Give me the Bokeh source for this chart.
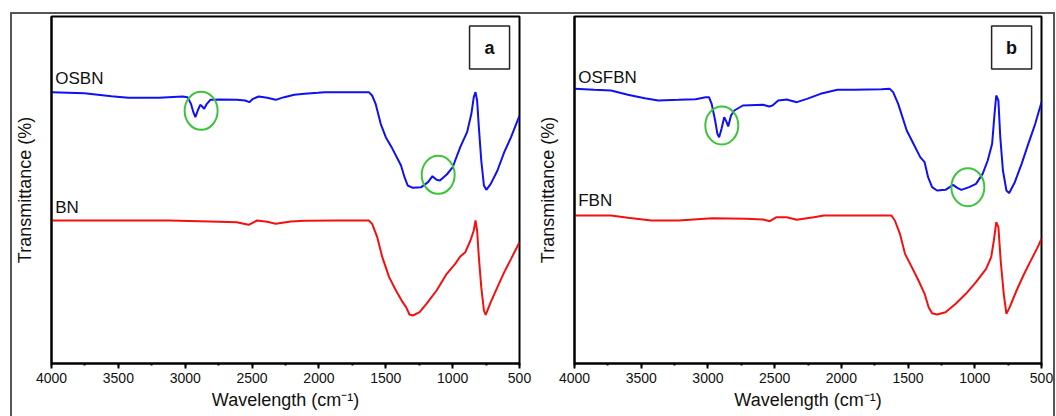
from bokeh.plotting import figure
from bokeh.models import Range1d, SingleIntervalTicker, FixedTicker, Label, InlineStyleSheet
from bokeh.layouts import row
from bokeh.embed import file_html
from bokeh.resources import INLINE

# ---------------- data (wavenumber cm^-1, transmittance a.u.) ----------------
osbn_wn = [4000, 3754, 3552, 3425, 3197, 3020, 2982, 2957, 2939, 2924, 2906, 2888, 2873, 2858, 2838,
           2812, 2741, 2615, 2551, 2521, 2493, 2450, 2387, 2323, 2260, 2184, 2108, 2007, 1956, 1779,
           1627, 1602, 1576, 1538, 1500, 1450, 1386, 1360, 1336, 1298, 1235, 1184, 1151, 1120, 1095,
           1044, 999, 981, 943, 892, 860, 842, 829, 817, 804, 786, 766, 748, 715, 665, 614, 563, 500]
osbn_t = [80.5, 80.2, 79.3, 78.8, 78.8, 79.2, 79.0, 77.0, 74.5, 73.0, 75.0, 76.7, 76.2, 75.5, 77.0,
          78.2, 78.3, 78.2, 78.0, 77.5, 78.5, 79.2, 78.8, 78.2, 79.0, 79.7, 80.0, 80.3, 80.5, 80.5,
          80.5, 79.5, 77.0, 71.0, 67.0, 63.5, 58.5, 55.0, 52.5, 51.8, 52.0, 53.5, 55.3, 54.2, 54.0,
          55.8, 58.0, 60.0, 64.0, 68.5, 74.0, 79.0, 80.5, 78.0, 70.0, 60.0, 52.5, 51.2, 53.0, 57.0,
          62.5, 67.0, 73.5]

bn_wn = [4000, 3121, 2817, 2615, 2526, 2463, 2387, 2323, 2210, 2108, 1855, 1627, 1602, 1564, 1526,
         1475, 1424, 1374, 1348, 1323, 1298, 1247, 1196, 1120, 1044, 981, 943, 905, 867, 842, 829,
         817, 804, 786, 766, 753, 715, 665, 614, 563, 500]
bn_t = [42.0, 42.0, 41.7, 41.5, 40.7, 42.0, 41.6, 41.0, 41.7, 41.9, 42.0, 42.0, 41.0, 37.0, 31.0,
        25.0, 21.0, 17.5, 16.0, 13.8, 13.5, 14.5, 17.0, 21.0, 26.0, 29.0, 31.2, 32.5, 36.0, 39.0, 42.0,
        39.0, 31.0, 22.0, 15.0, 13.7, 17.5, 22.0, 26.5, 30.5, 35.5]

osfbn_wn = [4000, 3853, 3726, 3600, 3473, 3372, 3220, 3093, 3017, 2992, 2972, 2946, 2929, 2916, 2898,
            2878, 2860, 2848, 2827, 2802, 2739, 2587, 2541, 2516, 2473, 2410, 2334, 2258, 2156, 2030,
            1903, 1700, 1637, 1612, 1574, 1510, 1472, 1409, 1376, 1350, 1320, 1283, 1219, 1163, 1131,
            1100, 1042, 991, 941, 903, 870, 852, 839, 823, 809, 789, 763, 743, 700, 649, 599, 547, 500]
osfbn_t = [81.5, 81.2, 81.0, 79.7, 78.7, 78.0, 78.2, 78.4, 79.0, 79.0, 77.0, 72.0, 68.0, 67.0, 69.5,
           73.0, 71.5, 70.2, 73.5, 75.0, 76.5, 76.7, 76.2, 76.5, 78.0, 78.3, 77.5, 78.5, 80.0, 81.2,
           81.2, 81.4, 81.5, 80.5, 77.0, 69.0, 66.0, 61.0, 59.5, 55.0, 52.0, 51.0, 51.2, 52.7, 51.8,
           51.2, 52.0, 53.0, 56.0, 60.0, 65.0, 74.0, 79.5, 78.0, 67.0, 57.0, 51.0, 50.2, 53.5, 59.0,
           65.0, 71.0, 77.5]

fbn_wn = [4000, 3726, 3600, 3423, 3220, 2967, 2713, 2587, 2536, 2486, 2410, 2334, 2207, 2131, 1827,
          1625, 1599, 1561, 1523, 1472, 1422, 1376, 1346, 1320, 1283, 1219, 1143, 1067, 991, 915,
          877, 857, 839, 823, 806, 783, 763, 738, 687, 636, 586, 535, 500]
fbn_t = [43.5, 43.5, 42.8, 42.0, 42.0, 42.7, 42.5, 42.3, 41.8, 43.0, 43.0, 42.2, 43.0, 43.5, 43.5,
         43.5, 42.0, 38.0, 32.0, 28.0, 24.0, 20.0, 16.0, 14.2, 13.8, 14.5, 17.0, 20.0, 23.5, 27.5,
         31.0, 36.0, 41.5, 40.0, 30.0, 20.0, 14.0, 16.0, 21.0, 25.5, 29.5, 33.5, 36.5]

# highlighted regions (green circles)
a_circle_wn = [2881, 1108]
a_circle_t = [74.9, 55.7]
b_circle_wn = [2896, 1052]
b_circle_t = [70.5, 52.0]

series_names_a = ["OSBN", "BN"]
series_names_b = ["OSFBN", "FBN"]
panel_tags = ["a", "b"]

FONT = "Liberation Sans"
BLUE = "#1010f5"
RED = "#f51010"
GREEN = "#3cc43c"
INK = "#111111"


def make_panel(width, left, right, top_wn, top_t, bot_wn, bot_t, c_wn, c_t, names, tag, name_y):
    p = figure(width=width, height=416, x_range=Range1d(4000, 500), y_range=Range1d(-0.9, 103.2),
               output_backend="svg", toolbar_location=None,
               min_border_left=left, min_border_right=right, min_border_top=16, min_border_bottom=53)
    p.grid.visible = False
    p.outline_line_color = "black"
    p.outline_line_width = 2
    p.background_fill_color = "white"
    p.border_fill_color = "white"

    xa = p.xaxis[0]
    xa.ticker = SingleIntervalTicker(interval=500, num_minor_ticks=2)
    xa.axis_label = "Wavelength (cm\u207b\u00b9)"
    xa.axis_label_text_font = FONT
    xa.axis_label_text_font_size = "18px"
    xa.axis_label_text_font_style = "normal"
    xa.axis_label_text_color = INK
    xa.axis_label_standoff = 4
    xa.major_label_text_font = FONT
    xa.major_label_text_font_size = "14px"
    xa.major_label_text_color = INK
    xa.major_label_standoff = 4
    xa.major_tick_out = 5
    xa.major_tick_in = 0
    xa.minor_tick_out = 2
    xa.minor_tick_in = 0
    xa.axis_line_width = 2
    xa.major_tick_line_width = 2
    xa.minor_tick_line_width = 2
    xa.axis_line_color = "black"
    xa.major_tick_line_color = "black"
    xa.minor_tick_line_color = "black"

    ya = p.yaxis[0]
    ya.ticker = FixedTicker(ticks=[])
    ya.major_tick_out = 0
    ya.minor_tick_out = 0
    ya.axis_label = "Transmittance (%)"
    ya.axis_label_text_font = FONT
    ya.axis_label_text_font_size = "18px"
    ya.axis_label_text_font_style = "normal"
    ya.axis_label_text_color = INK
    ya.axis_label_standoff = 17
    ya.axis_line_width = 2
    ya.axis_line_color = "black"

    p.line(top_wn, top_t, line_color=BLUE, line_width=2)
    p.line(bot_wn, bot_t, line_color=RED, line_width=2)
    p.ellipse(x=c_wn, y=c_t, width=33, height=38, width_units="screen", height_units="screen",
              fill_color=None, line_color=GREEN, line_width=2)

    p.rect(x=[724], y=[93.9], width=40, height=43, width_units="screen", height_units="screen",
           fill_color="white", line_color="#222222", line_width=1.5)
    p.add_layout(Label(x=724, y=93.9, text=tag, text_align="center", text_baseline="middle",
                       text_font=FONT, text_font_size="18px", text_font_style="bold",
                       text_color=INK))

    for nm, yy in zip(names, name_y):
        p.add_layout(Label(x=3972, y=yy, text=nm, text_align="left", text_baseline="middle",
                           text_font=FONT, text_font_size="17px", text_color=INK))
    return p


pa = make_panel(532, 51, 13, osbn_wn, osbn_t, bn_wn, bn_t, a_circle_wn, a_circle_t,
                series_names_a, panel_tags[0], [84.5, 45.8])
pb = make_panel(524, 42, 15, osfbn_wn, osfbn_t, fbn_wn, fbn_t, b_circle_wn, b_circle_t,
                series_names_b, panel_tags[1], [85.0, 48.0])

# outer frame around the whole figure (top, left and right edges)
outer_css = InlineStyleSheet(css=(
    ":host { position: relative; }"
    ":host::after { content: ''; position: absolute; left: 10px; top: 12px; width: 1041px; "
    "height: 420px; border: 2px solid #555555; border-bottom: none; pointer-events: none; }"
))

layout = row(pa, pb, stylesheets=[outer_css])
open("out.html", "w").write(file_html(layout, INLINE))
